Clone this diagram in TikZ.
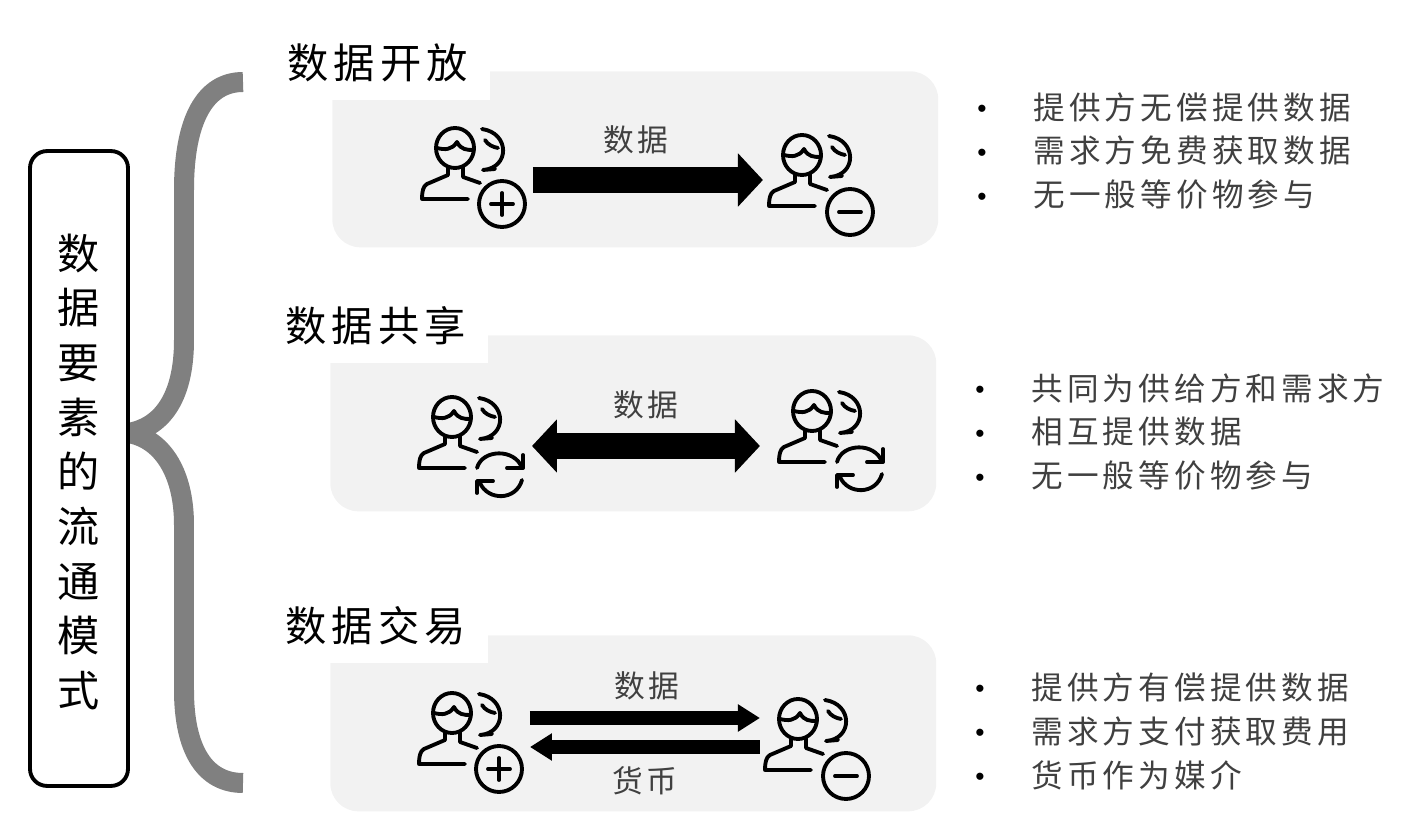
\documentclass[tikz,border=0pt]{standalone}
\usepackage{fontspec}
\setmainfont{Noto Sans CJK SC}
\newfontfamily\wide[LetterSpace=13]{Noto Sans CJK SC}
\newfontfamily\dotfont{Liberation Sans}
\usepackage{tikz}
\usetikzlibrary{positioning, arrows.meta}
\definecolor{panelGrey}{RGB}{242,242,242}
\definecolor{braceGrey}{RGB}{128,128,128}
\definecolor{textGrey}{RGB}{64,64,64}
\newcommand{\bulletrow}[1]{\makebox[1.34cm][l]{\hspace{0.22cm}\raisebox{1pt}{\textcolor{black}{\dotfont\fontsize{15}{15}\selectfont •}}}#1}
\tikzset{
	panelbox/.style={rectangle, fill=panelGrey, rounded corners=0.56cm, minimum width=12.12cm, minimum height=3.52cm, inner sep=0pt, anchor=north west},
	headbox/.style={rectangle, fill=white, minimum width=4.48cm, minimum height=1.46cm, inner sep=0pt, font=\wide\fontsize{23.5}{28}\selectfont, anchor=south east},
	iconbox/.style={minimum width=2.4cm, minimum height=0.58cm, inner sep=0pt, outer sep=0pt},
	itemlist/.style={align=left, inner sep=0pt, anchor=west, text=textGrey, font=\wide\fontsize{18}{25}\selectfont},
	arrowlabel/.style={inner sep=0pt, text=textGrey, font=\wide\fontsize{17.5}{20}\selectfont},
	bigarr/.style={line width=0.52cm, {-{Triangle[length=0.5cm,width=1.04cm]}}},
	bothbigarr/.style={line width=0.52cm, {Triangle[length=0.5cm,width=1.04cm]}-{Triangle[length=0.5cm,width=1.04cm]}},
	thinarr/.style={line width=0.28cm, -{Triangle[length=0.44cm,width=0.52cm]}},
	iconline/.style={line width=2.2pt, line cap=round, line join=round},
	person/.pic={
		\draw[iconline] (0,0) ellipse (19 and 20);
		\draw[iconline] (-18,0) .. controls (-10,2) and (-3,2) .. (2,-6) .. controls (6,2) and (12,2) .. (19,2);
		\draw[iconline] (-7,19) -- (-7,27) -- (-28,36) .. controls (-32,38) and (-33,44) .. (-33,51) -- (13,51);
		\draw[iconline] (8,19) -- (8,29) -- (25,35);
		\draw[iconline] (27,-19) .. controls (55,-15) and (55,20) .. (28,22) -- (40,21);
		\draw[iconline] (30,-8) .. controls (33,-3) and (38,-1) .. (43,0);
	},
	usergain/.pic={
		\pic {person};
		\draw[iconline] (47,56) circle (23);
		\draw[iconline] (36,56) -- (58,56) (47,45) -- (47,67);
	},
	userloss/.pic={
		\pic {person};
		\draw[iconline] (48,57) circle (23);
		\draw[iconline] (37,57) -- (59,57);
	},
	userswap/.pic={
		\pic {person};
		\begin{scope}[shift={(48,58)}]
			\draw[iconline] (-23,-7) .. controls (-18,-26) and (15,-27) .. (22,-7);
			\draw[iconline] (23,-20) -- (23,-7) -- (7,-7);
			\draw[iconline] (22,5) .. controls (16,26) and (-12,26) .. (-20,8);
			\draw[iconline] (-23,18) -- (-23,6) -- (-7,6);
		\end{scope}
	}
}

\begin{document}
\begin{tikzpicture}[x=0.02cm, y=-0.02cm]
	\useasboundingbox (0,0) rectangle (1401,820);
	% brace
	\coordinate (braceTop) at (243,82);
	\coordinate (braceTip) at (128,433);
	\coordinate (braceEnd) at (243,783);
	\draw[braceGrey, line width=0.4cm] (braceTop) .. controls (205,82) and (184,120) .. (184,190) -- (184,340) .. controls (184,400) and (160,428) .. (braceTip);
	\draw[braceGrey, line width=0.4cm] (braceTip) .. controls (160,438) and (184,470) .. (184,525) -- (184,690) .. controls (184,750) and (205,783) .. (braceEnd);
	\node[draw=black, line width=2.2pt, fill=white, rounded corners=0.34cm, minimum width=1.96cm, minimum height=12.7cm, inner sep=0pt, align=center, font=\fontsize{24}{31.1}\selectfont] (modes) at (79,468.5) {\rule{0pt}{24pt}数\\据\\要\\素\\的\\流\\通\\模\\式};

	% panels
	\node[panelbox] (openPanel) at (332,71) {};
	\node[panelbox] (sharePanel) at (330,335) {};
	\node[panelbox] (tradePanel) at (330,635) {};
	\node[headbox] (openHead) at (490,100) {数据开放};
	\node[headbox] (shareHead) at (488,363) {数据共享};
	\node[headbox] (tradeHead) at (488,663) {数据交易};

	% open
	\node[iconbox] (openGive) at (473,180) {};
	\node[iconbox, right=4.6cm of openGive] (openTake) {};
	\pic at (455,148) {usergain};
	\pic at (802,155) {userloss};
	\draw[bigarr] (openGive) -- (openTake);
	\node[arrowlabel] (openData) at (636,140) {数据};
	\node[itemlist] (openList) at (966,151) {\bulletrow{提供方无偿提供数据}\\\bulletrow{需求方免费获取数据}\\\bulletrow{无一般等价物参与}};

	% share
	\node[iconbox] (shareLeft) at (472,446) {};
	\node[iconbox, right=4.56cm of shareLeft] (shareRight) {};
	\pic at (452,417) {userswap};
	\pic at (812,411) {userswap};
	\draw[bothbigarr] (shareLeft) -- (shareRight);
	\node[arrowlabel] (shareData) at (646,405) {数据};
	\node[itemlist] (shareList) at (964,432) {\bulletrow{共同为供给方和需求方}\\\bulletrow{相互提供数据}\\\bulletrow{无一般等价物参与}};

	% trade
	\node[iconbox] (tradeGive) at (470,732.5) {};
	\node[iconbox, right=4.6cm of tradeGive] (tradeTake) {};
	\pic at (452,713) {usergain};
	\pic at (798,719) {userloss};
	\draw[thinarr] (tradeGive.north east) -- (tradeTake.north west);
	\draw[thinarr] (tradeTake.south west) -- (tradeGive.south east);
	\node[arrowlabel] (tradeData) at (647,686) {数据};
	\node[arrowlabel] (tradeMoney) at (645,781) {货币};
	\node[itemlist] (tradeList) at (964,731) {\bulletrow{提供方有偿提供数据}\\\bulletrow{需求方支付获取费用}\\\bulletrow{货币作为媒介}};
\end{tikzpicture}
\end{document}
